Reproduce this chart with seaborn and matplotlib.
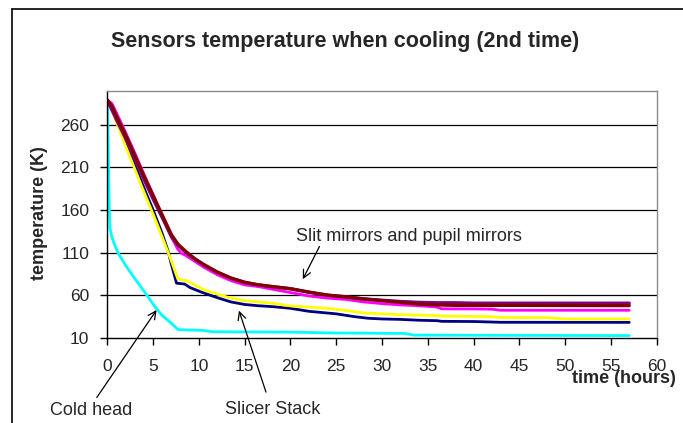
import matplotlib
matplotlib.use("Agg")
import matplotlib.pyplot as plt
from matplotlib.lines import Line2D
import seaborn as sns
import pandas as pd

# Cold head sensor
cold_head_t = [0, 0.08, 0.15, 0.22, 0.3, 0.48, 0.8, 1.2, 2, 2.83, 3.5, 4.29, 5.2, 6, 7, 7.73,
               10.5, 11.5, 20, 25, 32.5, 33.5, 57]
cold_head_k = [289, 250, 200, 160, 138, 129, 119, 109, 95, 82, 72, 60.3, 46.5, 36, 27, 19.5,
               18.5, 17, 16.5, 15.5, 15, 13, 12.5]

# Slicer stack sensors
slicer_a_t = [0, 0.5, 1, 2, 3, 4, 5, 6, 7, 7.7, 8.65, 9.5, 10.5, 12, 13.5, 15, 16.5, 18, 20,
              22, 24, 26, 28, 30, 32, 34, 36, 36.5, 40, 42, 43, 48, 50, 57]
slicer_a_k = [289, 278, 263, 235, 208, 181, 155, 128, 100, 79, 77, 72, 66.5, 61, 56.5, 53.5,
              52, 50.5, 47.3, 46, 44.5, 42, 39, 38, 37, 36.5, 36, 35.5, 35, 34.5, 33.7, 33.5,
              32, 32]
slicer_b_t = [0, 0.5, 1, 2, 3, 4, 5, 6, 6.6, 7, 7.56, 8.46, 9, 10.3, 12, 13.5, 15, 16.5, 18,
              20, 22, 24, 25, 27, 28.5, 30, 32, 34, 36, 36.5, 40, 43, 57]
slicer_b_k = [289, 280, 268, 240, 213, 186, 160, 132, 113, 96, 74, 73, 69, 63.4, 57, 52, 49,
              47.5, 46.5, 44.5, 41, 39, 38, 34.7, 32.8, 32, 31.5, 30.5, 30, 29.2, 29, 28.1, 28]

# Slit mirror and pupil mirror sensors
mirror_a_t = [0, 0.5, 1, 2, 3, 4, 5, 6, 7, 7.7, 8.1, 8.5, 9.5, 10.5, 12, 13.5, 15, 16.5, 18,
              20, 22, 24, 26, 28, 30, 32, 34, 36, 36.5, 38, 40, 42, 43, 57]
mirror_a_k = [289, 285, 274, 251, 227, 202, 178, 153, 128, 114, 109, 107, 100, 93, 84, 77,
              72, 70, 67, 63, 59, 56.5, 55, 52, 50, 48.5, 47.5, 46, 44, 43.8, 43.8, 43.5,
              42.2, 42.2]
mirror_b_t = [0, 1, 2, 3, 4, 5, 6, 7, 7.7, 8.5, 9.5, 10.5, 12, 13.5, 15, 16.5, 18, 20, 22,
              24, 26, 28, 30, 32, 34, 36, 38, 40, 57]
mirror_b_k = [289, 266, 244, 220, 196, 173, 151, 129, 119, 111, 103, 96, 87, 80, 75, 72, 70,
              67.5, 63.5, 60, 58, 55.5, 54, 52.5, 51.5, 51, 51, 50.5, 50.5]
mirror_c_t = [0, 0.5, 1, 2, 3, 4, 5, 6, 7, 7.7, 8.5, 9.5, 10.5, 12, 13.5, 15, 16.5, 18, 20,
              22, 24, 26, 28, 30, 32, 34, 36, 38, 40, 57]
mirror_c_k = [289, 282, 270, 248, 224, 200, 177, 154, 131, 120, 112, 103, 96, 87, 80, 75, 72,
              70, 67.5, 63.5, 60, 58, 55.5, 53.5, 51.5, 49.5, 48.5, 48, 48, 47.7]

x_ticks = list(range(0, 61, 5))
y_ticks = list(range(10, 261, 50))

series = [
    (slicer_b_t, slicer_b_k, "#000080", 2.0),
    (slicer_a_t, slicer_a_k, "#FFFF00", 2.0),
    (cold_head_t, cold_head_k, "#00FFFF", 2.0),
    (mirror_a_t, mirror_a_k, "#FF00FF", 2.0),
    (mirror_b_t, mirror_b_k, "#800080", 2.4),
    (mirror_c_t, mirror_c_k, "#800000", 2.4),
]

sns.set_theme(style="white")
plt.rcParams["font.family"] = ["Liberation Sans", "DejaVu Sans"]

W, H = 683, 423
fig = plt.figure(figsize=(W / 100, H / 100), dpi=100)
fig.patch.set_facecolor("white")

# outer chart frame (top and left edges)
fig.add_artist(Line2D([12 / W, 1.0], [1 - 9 / H, 1 - 9 / H], color="black", lw=1.2))
fig.add_artist(Line2D([12 / W, 12 / W], [1 - 9 / H, 0.0], color="black", lw=1.2))

ax = fig.add_axes([107.3 / W, 1 - 337.7 / H, (656.7 - 107.3) / W, (337.7 - 90.7) / H])
ax.set_facecolor("white")

for t, k, color, lw in series:
    df = pd.DataFrame({"time": t, "temp": k})
    sns.lineplot(data=df, x="time", y="temp", color=color, lw=lw, ax=ax,
                 estimator=None, sort=False)

ax.set_xlim(0, 60)
ax.set_ylim(10, 300)
ax.set_xticks(x_ticks)
ax.set_yticks(y_ticks)
ax.set_xlabel("")
ax.set_ylabel("")
for y in y_ticks[1:]:
    ax.axhline(y, color="black", lw=0.9, zorder=0)

for s in ("left", "bottom"):
    ax.spines[s].set_color("black")
    ax.spines[s].set_linewidth(1.0)
for s in ("top", "right"):
    ax.spines[s].set_color("#8c8c8c")
    ax.spines[s].set_linewidth(1.0)

ax.tick_params(axis="x", bottom=True, direction="out", length=5, width=1, color="black",
               pad=10, labelsize=12.5)
ax.tick_params(axis="y", left=True, direction="out", length=5, width=1, color="black",
               pad=8, labelsize=12.5)

fig.text(345 / W, 1 - 41.7 / H, "Sensors temperature when cooling (2nd time)",
         ha="center", va="center", fontsize=15.5, fontweight="bold")
fig.text(40 / W, 1 - 213 / H, "temperature (K)", rotation=90, ha="center", va="center",
         fontsize=13, fontweight="bold")
fig.text(676 / W, 1 - 378 / H, "time (hours)", ha="right", va="center",
         fontsize=13, fontweight="bold")

arrow = dict(arrowstyle="->", color="black", lw=0.9, mutation_scale=14, shrinkA=0, shrinkB=0)
ax.annotate("", xy=(21.35, 78.7), xytext=(23.17, 117.1), arrowprops=arrow,
            annotation_clip=False)
ax.text(20.63, 128.9, "Slit mirrors and pupil mirrors", ha="left", va="center", fontsize=13)

ax.annotate("", xy=(5.38, 42.5), xytext=(-1.15, -60.2), arrowprops=arrow,
            annotation_clip=False)
fig.text(50 / W, 1 - 410 / H, "Cold head", ha="left", va="center", fontsize=13)

ax.annotate("", xy=(14.38, 41.8), xytext=(17.33, -53.9), arrowprops=arrow,
            annotation_clip=False)
fig.text(225 / W, 1 - 409 / H, "Slicer Stack", ha="left", va="center", fontsize=13)

fig.savefig("out.png", dpi=100, facecolor="white")
